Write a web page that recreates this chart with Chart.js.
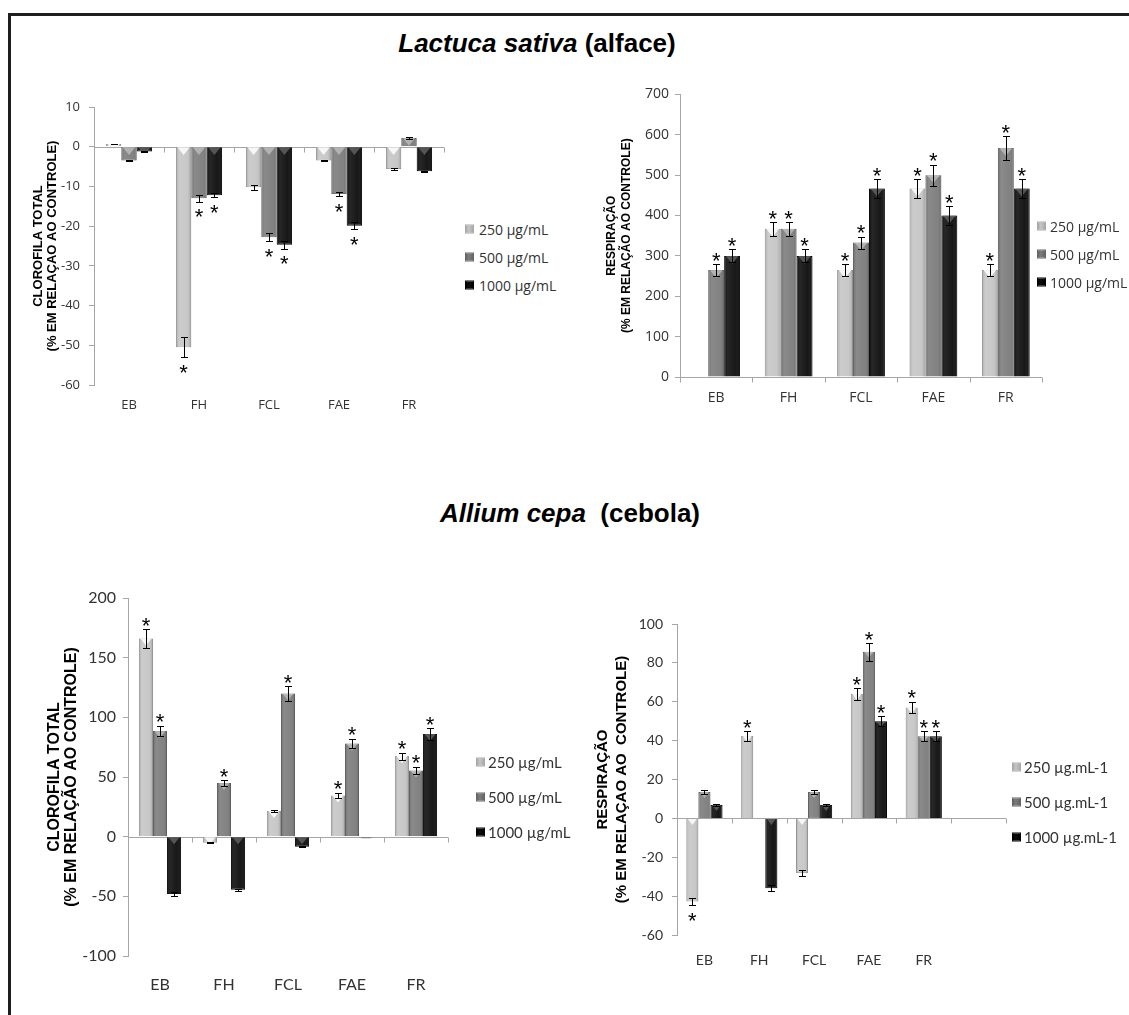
<!DOCTYPE html>
<html><head><meta charset="utf-8">
<script src="https://cdn.jsdelivr.net/npm/chart.js@4.4.0/dist/chart.umd.min.js"></script>
<style>
html,body{margin:0;padding:0;background:#fff;width:1129px;height:1015px;overflow:hidden;position:relative;font-family:"Liberation Sans",Arial,sans-serif;}
#frame{position:absolute;left:8px;top:13px;width:1200px;height:1100px;border:3px solid #1e1e1e;box-sizing:border-box;}
.title{position:absolute;font-weight:bold;color:#000;white-space:pre;transform:translate(-50%,-50%);font-size:26px;}
canvas{position:absolute;}
.li{position:absolute;white-space:nowrap;color:#333;transform:translateY(-50%);}
.sw{position:absolute;width:9px;height:9px;transform:translateY(-50%);box-sizing:border-box;}
</style></head>
<body>
<div id="frame"></div>
<div class="title" style="left:537px;top:43px;"><i>Lactuca sativa</i> (alface)</div>
<div class="title" style="left:570px;top:513px;"><i>Allium cepa</i>  (cebola)</div>
<canvas id="c1" width="455" height="330" style="left:0px;top:90px;width:455px;height:330px"></canvas>
<canvas id="c2" width="490" height="330" style="left:560px;top:80px;width:490px;height:330px"></canvas>
<canvas id="c3" width="460" height="430" style="left:0px;top:580px;width:460px;height:430px"></canvas>
<canvas id="c4" width="460" height="430" style="left:560px;top:580px;width:460px;height:430px"></canvas>
<script>
// ---------- DATA ----------
const categories5 = ["EB","FH","FCL","FAE","FR"];
const categories6 = ["EB","FH","FCL","FAE","FR",""];
const seriesLabelsSlash = ["250 µg/mL","500 µg/mL","1000 µg/mL"];
const seriesLabelsDot = ["250 µg.mL-1","500 µg.mL-1","1000 µg.mL-1"];

// Lactuca sativa - clorofila total
const lacClo250 = [0.7, -50.5, -10.2, -3.5, -5.6];
const lacClo500 = [-3.5, -13.0, -22.8, -11.9, 2.2];
const lacClo1000 = [-1.2, -12.2, -24.7, -19.9, -6.2];
const lacCloErr250 = [0.1, 2.5, 0.6, 0.2, 0.3];
const lacCloErr500 = [0.2, 0.8, 1.0, 0.6, 0.2];
const lacCloErr1000 = [0.1, 0.5, 1.0, 0.9, 0.2];
const lacCloSig250 = [0, 1, 0, 0, 0];
const lacCloSig500 = [0, 1, 1, 1, 0];
const lacCloSig1000 = [0, 1, 1, 1, 0];

// Lactuca sativa - respiração
const lacRes250 = [null, 367, 265, 467, 265];
const lacRes500 = [265, 367, 333, 500, 567];
const lacRes1000 = [300, 300, 467, 400, 467];
const lacResErr250 = [0, 17, 14, 23, 14];
const lacResErr500 = [15, 17, 15, 26, 29];
const lacResErr1000 = [16, 16, 23, 23, 23];
const lacResSig250 = [0, 1, 1, 1, 1];
const lacResSig500 = [1, 1, 1, 1, 1];
const lacResSig1000 = [1, 1, 1, 1, 1];

// Allium cepa - clorofila total
const allClo250 = [166, -5, 21.6, 34.5, 67.5];
const allClo500 = [88.5, 45, 120, 78, 55.5];
const allClo1000 = [-48, -44.5, -8.5, -0.5, 86];
const allCloErr250 = [8, 0.5, 1, 2.5, 3];
const allCloErr500 = [4.5, 2.5, 6, 4, 3];
const allCloErr1000 = [1.5, 1, 0.5, 0, 5];
const allCloSig250 = [1, 0, 0, 1, 1];
const allCloSig500 = [1, 1, 1, 1, 1];
const allCloSig1000 = [0, 0, 0, 0, 1];

// Allium cepa - respiração
const allRes250 = [-42.8, 42.4, -28.1, 64, 57, null];
const allRes500 = [13.6, null, 13.6, 85.7, 42.2, null];
const allRes1000 = [6.9, -35.9, 6.9, 50, 42.2, null];
const allResErr250 = [2, 2.5, 1.5, 3, 3, 0];
const allResErr500 = [1, 0, 1, 4.5, 2.5, 0];
const allResErr1000 = [0.7, 1.5, 0.7, 2.5, 2.5, 0];
const allResSig250 = [1, 1, 0, 1, 1, 0];
const allResSig500 = [0, 0, 0, 1, 1, 0];
const allResSig1000 = [0, 0, 0, 1, 1, 0];

// axis ranges
const lacCloAxis = {min:-60, max:10, step:10};
const lacResAxis = {min:0, max:700, step:100};
const allCloAxis = {min:-100, max:200, step:50};
const allResAxis = {min:-60, max:100, step:20};

// ---------- STYLE ----------
const FILL = ['#c6c6c6', '#7d7d7d', '#0e0e0e'];
const EDGE = ['#a9a9a9', '#666666', '#000000'];
const TRI  = ['rgba(255,255,255,0.85)', 'rgba(215,215,215,0.55)', 'rgba(95,95,95,0.85)'];

const decor = {
  id:'decor',
  beforeDatasetsDraw(chart){
    const {ctx, chartArea:a, scales:{x,y}} = chart;
    const y0 = Math.round(y.getPixelForValue(0))+0.5;
    ctx.save(); ctx.strokeStyle='#a6a6a6'; ctx.lineWidth=1;
    ctx.beginPath(); ctx.moveTo(a.left,y0); ctx.lineTo(a.right,y0);
    const n = chart.data.labels.length;
    for(let i=0;i<=n;i++){ const px=Math.round(x.getPixelForValue(i-0.5))+0.5; ctx.moveTo(px,y0); ctx.lineTo(px,y0+5); }
    ctx.stroke(); ctx.restore();
  },
  afterDatasetsDraw(chart){
    const {ctx, scales:{y}} = chart;
    const sf = chart.options.starSize || 20;
    chart.data.datasets.forEach((ds,di)=>{
      const meta = chart.getDatasetMeta(di);
      meta.data.forEach((bar,j)=>{
        const v = ds.data[j]; if(v==null) return;
        const p = bar.getProps(['x','y','base','width'], true);
        const w=p.width, l=p.x-w/2, r=p.x+w/2, top=Math.min(p.y,p.base), bot=Math.max(p.y,p.base);
        const h = Math.max(bot-top,1);
        ctx.save();
        ctx.beginPath(); ctx.rect(l,top,w,h); ctx.clip();
        const g = ctx.createLinearGradient(l,0,r,0);
        g.addColorStop(0,'rgba(0,0,0,0.16)'); g.addColorStop(0.22,'rgba(255,255,255,0.10)');
        g.addColorStop(0.7,'rgba(255,255,255,0.04)'); g.addColorStop(1,'rgba(0,0,0,0.22)');
        ctx.fillStyle=g; ctx.fillRect(l,top,w,h);
        ctx.fillStyle=TRI[di];
        ctx.beginPath(); ctx.moveTo(l+1.5,top); ctx.lineTo(r-1.5,top); ctx.lineTo(p.x, top+w*0.5); ctx.closePath(); ctx.fill();
        ctx.restore();
        const e = ds.err[j]||0;
        ctx.save(); ctx.strokeStyle='#000'; ctx.lineWidth=1;
        const bx = Math.round(p.x)+0.5;
        if(e>0){
          const p1=Math.round(y.getPixelForValue(v+e))+0.5, p2=Math.round(y.getPixelForValue(v-e))+0.5;
          ctx.beginPath(); ctx.moveTo(bx,p1); ctx.lineTo(bx,p2);
          ctx.moveTo(bx-3.5,p1); ctx.lineTo(bx+3.5,p1);
          ctx.moveTo(bx-3.5,p2); ctx.lineTo(bx+3.5,p2);
          ctx.stroke();
        }
        if(ds.sig[j]){
          ctx.fillStyle='#000'; ctx.font=sf+'px "Liberation Sans"'; ctx.textAlign='center'; ctx.textBaseline='alphabetic';
          const cy = v>=0 ? y.getPixelForValue(v+e)-9 : y.getPixelForValue(v-e)+10;
          ctx.fillText('*', p.x, cy+0.57*sf);
        }
        ctx.restore();
      });
    });
  }
};

function build(id, o){
  const values=o.values, errs=o.errs, sigs=o.sigs;
  return new Chart(document.getElementById(id), {
    type:'bar',
    data:{labels:o.labels, datasets:values.map((v,i)=>({label:o.legend[i], data:v, backgroundColor:FILL[i], borderColor:EDGE[i], borderWidth:1, borderSkipped:'start', err:errs[i], sig:sigs[i], categoryPercentage:0.66, barPercentage:1}))},
    options:{
      responsive:false, animation:false, devicePixelRatio:1, starSize:o.starSize,
      layout:{padding:o.pad},
      plugins:{legend:{display:false}, tooltip:{enabled:false}},
      scales:{
        x:{grid:{display:false, drawTicks:false}, border:{display:false},
           ticks:{font:{family:o.font, size:o.xFont}, color:'#333', padding:o.xPad, maxRotation:0, autoSkip:false},
           afterFit:s=>{s.height=o.xH;}},
        y:{min:o.axis.min, max:o.axis.max,
           ticks:{stepSize:o.axis.step, font:{family:o.font, size:o.yFont}, color:'#333', padding:o.yPad},
           grid:{drawOnChartArea:false, drawTicks:true, tickLength:5, color:'#a6a6a6'},
           border:{display:true, color:'#a6a6a6'},
           title:{display:true, text:o.title, color:'#000', font:{family:'Liberation Sans', weight:'bold', size:o.tFont, lineHeight:o.tLH}, padding:{top:o.tPad, bottom:0}},
           afterFit:s=>{s.width=o.yW;}}
      }
    },
    plugins:[decor]
  });
}

build('c1', {labels:categories5, legend:seriesLabelsSlash, axis:lacCloAxis,
  values:[lacClo250,lacClo500,lacClo1000], errs:[lacCloErr250,lacCloErr500,lacCloErr1000], sigs:[lacCloSig250,lacCloSig500,lacCloSig1000],
  pad:{left:0,top:17,right:11,bottom:0}, yW:94, xH:35, xPad:12, yPad:9, font:'Open Sans', xFont:13, yFont:13,
  title:['CLOROFILA TOTAL','(% EM RELAÇAO AO CONTROLE)'], tFont:13, tLH:1.08, tPad:31, starSize:22});

build('c2', {labels:categories5, legend:seriesLabelsSlash, axis:lacResAxis,
  values:[lacRes250,lacRes500,lacRes1000], errs:[lacResErr250,lacResErr500,lacResErr1000], sigs:[lacResSig250,lacResSig500,lacResSig1000],
  pad:{left:0,top:14,right:8,bottom:0}, yW:120, xH:33, xPad:13, yPad:6, font:'Open Sans', xFont:14, yFont:14,
  title:['RESPIRAÇÃO','(% EM RELAÇÃO AO CONTROLE)'], tFont:12, tLH:1.25, tPad:44.5, starSize:22});

build('c3', {labels:categories5, legend:seriesLabelsSlash, axis:allCloAxis,
  values:[allClo250,allClo500,allClo1000], errs:[allCloErr250,allCloErr500,allCloErr1000], sigs:[allCloSig250,allCloSig500,allCloSig1000],
  pad:{left:0,top:18,right:12,bottom:0}, yW:128, xH:54, xPad:19, yPad:7, font:'Lato', xFont:16, yFont:16,
  title:['CLOROFILA TOTAL','(% EM RELAÇÃO AO CONTROLE)'], tFont:16, tLH:1.06, tPad:46.5, starSize:22});

build('c4', {labels:categories6, legend:seriesLabelsDot, axis:allResAxis,
  values:[allRes250,allRes500,allRes1000], errs:[allResErr250,allResErr500,allResErr1000], sigs:[allResSig250,allResSig500,allResSig1000],
  pad:{left:0,top:44,right:14,bottom:0}, yW:117, xH:75, xPad:17, yPad:9, font:'Lato', xFont:14, yFont:14,
  title:['RESPIRAÇÃO','(% EM RELAÇAO AO  CONTROLE)'], tFont:15, tLH:1.25, tPad:33.6, starSize:22});

// ---------- LEGENDS (HTML text) ----------
function legend(labels, sx, tx, ys, font){
  labels.forEach((t,i)=>{
    const s=document.createElement('div'); s.className='sw';
    s.style.left=sx+'px'; s.style.top=ys[i]+'px';
    s.style.background='linear-gradient(90deg,'+EDGE[i]+','+FILL[i]+' 40%,'+EDGE[i]+')';
    s.style.border='1px solid '+EDGE[i];
    document.body.appendChild(s);
    const d=document.createElement('div'); d.className='li'; d.textContent=t;
    d.style.left=tx+'px'; d.style.top=ys[i]+'px'; d.style.font=font;
    document.body.appendChild(d);
  });
}
legend(seriesLabelsSlash, 465, 479, [229,257,285], '14px "Open Sans"');
legend(seriesLabelsSlash, 1037, 1050, [226,254,282], '14px "Open Sans"');
legend(seriesLabelsSlash, 476, 488, [762,797,832], '15px Lato');
legend(seriesLabelsDot, 1012, 1024, [767,802,837], '15px Lato');
</script>
</body></html>
